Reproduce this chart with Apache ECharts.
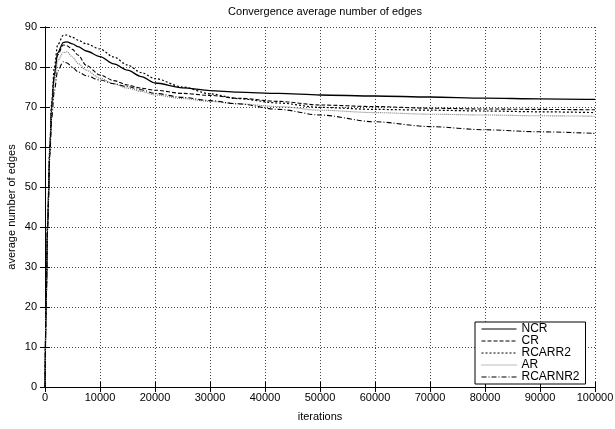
<!DOCTYPE html>
<html>
<head>
<meta charset="utf-8">
<script src="https://cdn.jsdelivr.net/npm/echarts@6/dist/echarts.min.js"></script>
<style>
    html, body { margin: 0; padding: 0; background: #fff; }
    #chart { width: 615px; height: 429px; }
</style>
</head>
<body>
<div id="chart"></div>
<script>
// iterations (x values shared by every run)
var iterations = [0, 200, 450, 900, 1200, 1700, 2300, 3300, 4000, 5000, 6000, 7500, 10000, 12500, 15000, 17500, 20000, 25000, 30000, 35000, 42500, 50000, 60000, 70000, 80000, 90000, 100000];

var ncr     = [0, 20, 40, 60, 70, 78, 83.5, 86.1, 86.3, 85.8, 85.1, 84, 82.6, 80.8, 79.2, 77.6, 76, 74.8, 74.1, 73.7, 73.4, 73, 72.75, 72.5, 72.2, 72.05, 71.9];
var cr      = [0, 20, 40, 60, 70, 78, 83, 85.5, 85.3, 84.4, 83, 80.4, 78, 76.6, 75.5, 74.7, 74.2, 73.4, 72.9, 72.2, 71.4, 70.5, 70.1, 69.7, 69.5, 69.4, 69.3];
var rcarr2  = [0, 20, 40, 61, 71, 80, 85.5, 87.9, 88, 87.4, 86.7, 85.8, 84.5, 82.5, 80.5, 78.6, 77.1, 75, 73.3, 72.1, 71, 69.9, 69.4, 69.2, 69, 68.8, 68.6];
var ar      = [0, 20, 40, 60, 69, 76, 81.5, 83.6, 83.8, 82.5, 80.9, 79.2, 77.2, 75.8, 74.7, 73.9, 73, 72.1, 71.4, 70.8, 70.1, 69.2, 68.6, 68.2, 68, 67.8, 67.7];
var rcarnr2 = [0, 20, 39, 58, 67, 74, 79, 81.3, 81, 79.9, 78.8, 77.8, 76.75, 75.8, 75.1, 74.3, 73.4, 72.4, 71.6, 70.8, 69.4, 68, 66.3, 65.1, 64.3, 63.8, 63.4];

var seriesNames = ['NCR', 'CR', 'RCARR2', 'AR', 'RCARNR2'];

function pairs(ys) {
    var out = [];
    for (var i = 0; i < iterations.length; i++) {
        out.push([iterations[i], ys[i]]);
    }
    return out;
}

function makeLine(name, ys, color, type, width) {
    return {
        name: name,
        type: 'line',
        data: pairs(ys),
        symbol: 'none',
        smooth: 0.3,
        smoothMonotone: 'x',
        animation: false,
        lineStyle: { color: color, type: type, width: width },
        itemStyle: { color: color }
    };
}

var font = 'Liberation Sans, Arial, sans-serif';
var gridLine = { show: true, lineStyle: { color: '#444', type: [1, 2], width: 1 } };

var chart = echarts.init(document.getElementById('chart'));
var option = {
    backgroundColor: '#fff',
    animation: false,
    title: {
        text: 'Convergence average number of edges',
        left: 320,
        textAlign: 'center',
        top: 1,
        textStyle: { fontFamily: font, fontSize: 11, fontWeight: 'normal', color: '#000' }
    },
    grid: { left: 45, right: 20, top: 27, bottom: 42, containLabel: false, outerBoundsMode: 'none' },
    legend: {
        data: seriesNames,
        orient: 'vertical',
        left: 475,
        top: 322,
        padding: [1, 6, 1, 6],
        itemWidth: 35,
        itemHeight: 12,
        itemGap: 0,
        backgroundColor: '#fff',
        borderColor: '#000',
        borderWidth: 1,
        borderRadius: 0,
        itemStyle: { opacity: 0 },
        lineStyle: { width: 1 },
        textStyle: { fontFamily: font, fontSize: 12, color: '#000', lineHeight: 12 }
    },
    xAxis: [{
        type: 'value',
        min: 0, max: 100000, interval: 10000,
        name: 'iterations',
        nameLocation: 'middle',
        nameGap: 24,
        nameMoveOverlap: false,
        nameTextStyle: { fontFamily: font, fontSize: 11, color: '#000' },
        axisLine: { lineStyle: { color: '#000', width: 1 } },
        axisTick: { inside: true, length: 5, lineStyle: { color: '#000' } },
        axisLabel: { fontFamily: font, fontSize: 11, color: '#000', margin: 5, formatter: function (v) { return String(v); } },
        splitLine: gridLine
    }, {
        type: 'value',
        position: 'top',
        min: 0, max: 100000, interval: 10000,
        axisLine: { lineStyle: { color: '#000', width: 1 } },
        axisTick: { inside: true, length: 5, lineStyle: { color: '#000' } },
        axisLabel: { show: false },
        splitLine: { show: false }
    }],
    yAxis: [{
        type: 'value',
        min: 0, max: 90, interval: 10,
        name: 'average number of edges',
        nameLocation: 'middle',
        nameGap: 28,
        nameMoveOverlap: false,
        nameTextStyle: { fontFamily: font, fontSize: 11, color: '#000' },
        axisLine: { show: true, lineStyle: { color: '#000', width: 1 } },
        axisTick: { show: true, inside: true, length: 5, lineStyle: { color: '#000' } },
        axisLabel: { fontFamily: font, fontSize: 11, color: '#000', margin: 8 },
        splitLine: gridLine
    }, {
        type: 'value',
        position: 'right',
        min: 0, max: 90, interval: 10,
        axisLine: { show: true, lineStyle: { color: '#000', width: 1 } },
        axisTick: { show: true, inside: true, length: 5, lineStyle: { color: '#000' } },
        axisLabel: { show: false },
        splitLine: { show: false }
    }],
    series: [
        makeLine('NCR', ncr, '#000', 'solid', 1.3),
        makeLine('CR', cr, '#000', [4, 2], 1.1),
        makeLine('RCARR2', rcarr2, '#000', [2, 2], 1.2),
        makeLine('AR', ar, '#777', [1, 1], 1.1),
        makeLine('RCARNR2', rcarnr2, '#000', [5, 2, 1, 2], 1.1)
    ]
};
chart.setOption(option);
</script>
</body>
</html>
